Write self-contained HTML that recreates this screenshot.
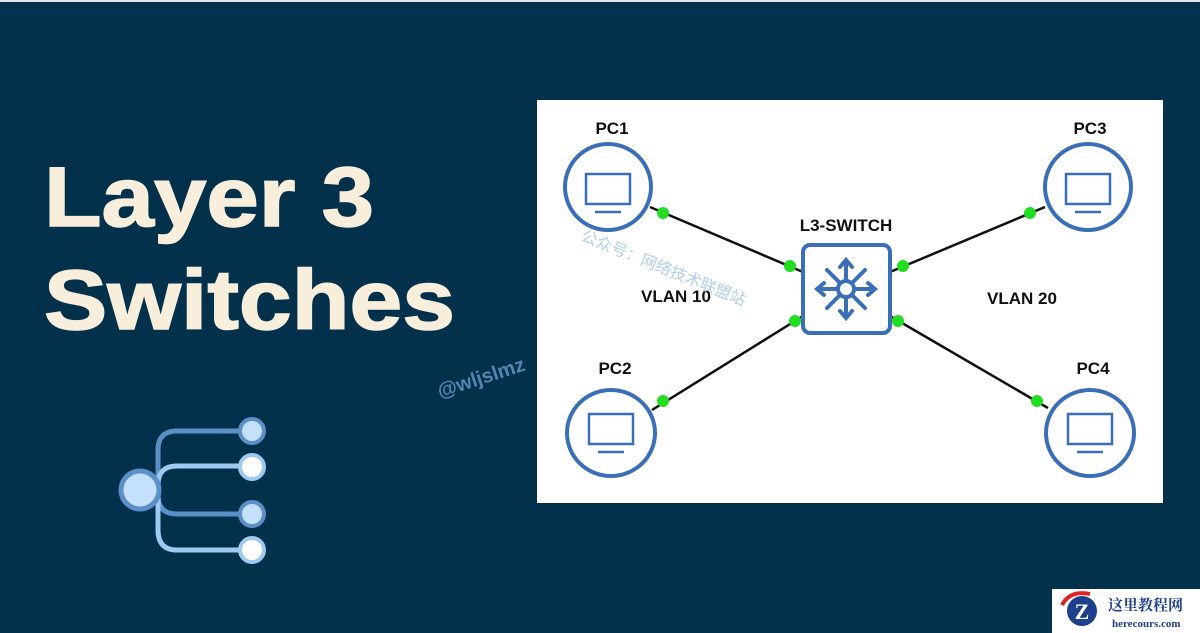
<!DOCTYPE html>
<html><head><meta charset="utf-8"><style>
html,body{margin:0;padding:0;}
body{width:1200px;height:633px;background:#03304a;overflow:hidden;position:relative;}
</style></head><body>
<svg width="1200" height="633" xmlns="http://www.w3.org/2000/svg" style="position:absolute;left:0;top:0">
<rect x="0" y="0" width="1200" height="2" fill="#dfe6ea"/>
<rect x="0" y="2" width="1200" height="631" fill="#03304a"/>
<rect x="0" y="7" width="1200" height="7" fill="#04324f"/>
<text x="44" y="226" textLength="330" lengthAdjust="spacingAndGlyphs" font-family="Liberation Sans, sans-serif" font-weight="bold" font-size="84" fill="#f7eedb" stroke="#f7eedb" stroke-width="1.5">Layer 3</text>
<text x="44" y="329" textLength="411" lengthAdjust="spacingAndGlyphs" font-family="Liberation Sans, sans-serif" font-weight="bold" font-size="84" fill="#f7eedb" stroke="#f7eedb" stroke-width="1.5">Switches</text>
<!-- tree icon -->
<g fill="none" stroke-width="5">
<path d="M158 490 V450 Q158 431 177 431 H245" stroke="#5b8fc8"/>
<path d="M158 490 V485 Q158 466 177 466 H245" stroke="#9ec9f1"/>
<path d="M158 490 V495 Q158 514 177 514 H245" stroke="#5b8fc8"/>
<path d="M158 490 V530 Q158 550 177 550 H245" stroke="#9ec9f1"/>
</g>
<circle cx="140" cy="490" r="19" fill="#c5e0fb" stroke="#5b8fc8" stroke-width="5"/>
<circle cx="252" cy="431" r="12" fill="#c5e0fb" stroke="#5b8fc8" stroke-width="4"/>
<circle cx="252" cy="467" r="12" fill="#ffffff" stroke="#9ec9f1" stroke-width="4"/>
<circle cx="252" cy="514" r="12" fill="#c5e0fb" stroke="#5b8fc8" stroke-width="4"/>
<circle cx="252" cy="550" r="12" fill="#ffffff" stroke="#9ec9f1" stroke-width="4"/>
<!-- diagram box -->
<rect x="537" y="100" width="626" height="403" fill="#ffffff"/>
<g stroke="#111" stroke-width="2.5">
<line x1="650" y1="207" x2="803" y2="272"/>
<line x1="652" y1="410" x2="803" y2="316"/>
<line x1="1045" y1="207" x2="890" y2="272"/>
<line x1="1048" y1="408" x2="890" y2="316"/>
</g>
<g fill="#fff" stroke="#3a6fb8" stroke-width="4">
<circle cx="608" cy="187" r="43"/>
<circle cx="1088" cy="187" r="43"/>
<ellipse cx="611" cy="433" rx="44" ry="43"/>
<ellipse cx="1090" cy="433" rx="44" ry="43"/>
</g>
<g fill="none" stroke="#3a6fb8" stroke-width="2.5">
<rect x="586" y="174" width="44" height="30"/><line x1="595" y1="212" x2="621" y2="212"/>
<rect x="1066" y="174" width="44" height="30"/><line x1="1075" y1="212" x2="1101" y2="212"/>
<rect x="589" y="414" width="44" height="30"/><line x1="598" y1="452" x2="624" y2="452"/>
<rect x="1068" y="414" width="44" height="30"/><line x1="1077" y1="452" x2="1103" y2="452"/>
</g>
<rect x="803" y="245" width="87" height="88" rx="7" fill="#fff" stroke="#3a6fb8" stroke-width="4"/>
<g stroke="#3a6fb8" stroke-width="4" fill="none" stroke-linecap="round">
<line x1="846" y1="289" x2="846" y2="262"/><line x1="846" y1="289" x2="846" y2="316"/>
<line x1="846" y1="289" x2="819" y2="289"/><line x1="846" y1="289" x2="873" y2="289"/>
<line x1="846" y1="289" x2="827" y2="270"/><line x1="846" y1="289" x2="865" y2="270"/>
<line x1="846" y1="289" x2="827" y2="308"/><line x1="846" y1="289" x2="865" y2="308"/>
<path d="M840 267 L846 260 L852 267 M840 311 L846 318 L852 311 M824 283 L817 289 L824 295 M868 283 L875 289 L868 295"/>
</g>
<circle cx="846" cy="289" r="8" fill="#fff" stroke="#3a6fb8" stroke-width="4"/>
<g fill="#22dd22">
<circle cx="663" cy="213" r="6"/><circle cx="790" cy="266" r="6"/>
<circle cx="795" cy="321" r="6"/><circle cx="663" cy="401" r="6"/>
<circle cx="903" cy="266" r="6"/><circle cx="898" cy="321" r="6"/>
<circle cx="1030" cy="213" r="6"/><circle cx="1037" cy="401" r="6"/>
</g>
<g font-family="Liberation Sans, sans-serif" font-weight="bold" font-size="17" fill="#111" text-anchor="middle">
<text x="612" y="134">PC1</text>
<text x="1090" y="134">PC3</text>
<text x="615" y="374">PC2</text>
<text x="1093" y="374">PC4</text>
<text x="846" y="231">L3-SWITCH</text>
<text x="676" y="302">VLAN 10</text>
<text x="1022" y="304">VLAN 20</text>
</g>
<text x="580" y="240" transform="rotate(22 580 240)" font-family="Liberation Sans, Noto Sans CJK SC, sans-serif" font-size="16" fill="#9fc3ea" opacity="0.8">公众号：网络技术联盟站</text>
<text x="440" y="398" transform="rotate(-18 440 398)" font-family="Liberation Sans, sans-serif" font-weight="bold" font-size="20" fill="#6a9ccc" opacity="0.8">@wljslmz</text>
<!-- logo -->
<rect x="1052" y="589" width="148" height="44" fill="#ffffff"/>
<circle cx="1082" cy="611" r="15" fill="#1d3f8c"/>
<path d="M1062 605 Q1070 590 1090 594" stroke="#d22" stroke-width="4" fill="none"/>
<text x="1082" y="619" font-family="Liberation Serif, serif" font-weight="bold" font-size="22" fill="#fff" text-anchor="middle">Z</text>
<text x="1108" y="610" font-family="Liberation Serif, Noto Serif CJK SC, serif" font-weight="bold" font-size="15" fill="#1d3f8c">这里教程网</text>
<text x="1112" y="627" font-family="Liberation Serif, serif" font-weight="bold" font-size="11" fill="#1d3f8c">herecours.com</text>
</svg>
</body></html>
